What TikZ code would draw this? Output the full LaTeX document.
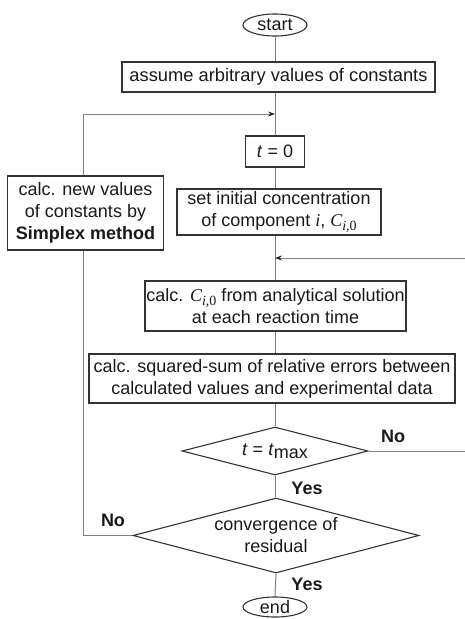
\documentclass[tikz,border=0pt]{standalone}
\usepackage{fontspec}
\setmainfont{Liberation Sans}
\newfontfamily\tms{Liberation Serif}
\usetikzlibrary{shapes.geometric,arrows.meta}
\newcommand{\Cio}{{\tms\itshape C}\raisebox{-4pt}{\fontsize{14}{14}\selectfont\tms\itshape i,\upshape 0}}
\begin{document}
\begin{tikzpicture}[x=1pt,y=-1pt,
  every node/.style={font=\fontsize{18}{22}\selectfont, text=black!90},
  procbox/.style={draw=black!80, line width=1.1pt, rectangle, inner sep=1pt, align=center},
  termnode/.style={draw=black!80, line width=1.1pt, ellipse, inner sep=0pt, minimum width=64pt},
  decide/.style={draw=black!80, line width=1.1pt, diamond, inner sep=0pt, align=center},
  conn/.style={draw=black!50, line width=1pt},
  arr/.style={conn, -{Stealth[length=7pt,width=5pt,black!85]}},
  lbl/.style={font=\fontsize{18}{22}\selectfont\bfseries}
]
\useasboundingbox (0,0) rectangle (465,619);

\node[termnode, minimum height=22pt] (start) at (275,25) {start};
\node[procbox, minimum width=313pt, minimum height=30pt, font=\fontsize{18.3}{22}\selectfont] (assume) at (278.5,77) {assume arbitrary values of constants};
\node[procbox, minimum width=59pt, minimum height=31pt] (t0) at (275,151.5) {\textit{t} = 0};
\node[procbox, minimum width=156pt, minimum height=74pt] (simplex) at (85.5,213)
  {calc. new values\\of constants by\\\textbf{Simplex method}};
\node[procbox, minimum width=204pt, minimum height=46pt] (setinit) at (279,212)
  {set initial concentration\\of component {\tms\itshape i}, \Cio};
\node[procbox, minimum width=261pt, minimum height=50pt] (calcC) at (275.5,306)
  {calc. \Cio{} from analytical solution\\at each reaction time};
\node[procbox, minimum width=366pt, minimum height=49pt] (sqsum) at (272,378.5)
  {calc. squared-sum of relative errors between\\calculated values and experimental data};
\node[decide, aspect=3.9, minimum width=186pt, minimum height=48pt] (tmax) at (275,451)
  {\textit{t} = \textit{t}\raisebox{-3pt}{max}};
\node[decide, aspect=3.8, minimum width=286pt, minimum height=75pt] (conv) at (276,535.5)
  {convergence of\\residual};
\node[termnode, minimum height=20pt] (end) at (275,607) {end};

\coordinate (lt) at (83,114);
\coordinate (rin) at (465,258);
\coordinate (rout) at (465,451);

\draw[conn] (start) -- (start.south |- assume.north);
\draw[conn] (assume.south -| t0.north) -- (t0.north);
\draw[conn] (t0) -- (t0.south |- setinit.north);
\draw[conn] (t0.south |- setinit.south) -- (t0.south |- calcC.north);
\draw[conn] (t0.south |- calcC.south) -- (t0.south |- sqsum.north);
\draw[conn] (t0.south |- sqsum.south) -- (tmax.north);
\draw[conn] (tmax.south) -- (conv.north -| tmax.south);
\draw[conn] (conv.south) -- (end.north);
\draw[conn] (tmax.east) -- (rout);
\draw[conn] (conv.west) -- (conv.west -| lt) -- (lt |- simplex.south);
\draw[conn] (lt |- simplex.north) -- (lt);
\draw[arr] (lt) -- (lt -| t0.north);
\draw[arr] (rin) -- (rin -| t0.north);

\node[lbl] (no1) at (393,436) {No};
\node[lbl] (yes1) at (307,488) {Yes};
\node[lbl] (no2) at (113,520) {No};
\node[lbl] (yes2) at (307,584) {Yes};
\end{tikzpicture}
\end{document}
